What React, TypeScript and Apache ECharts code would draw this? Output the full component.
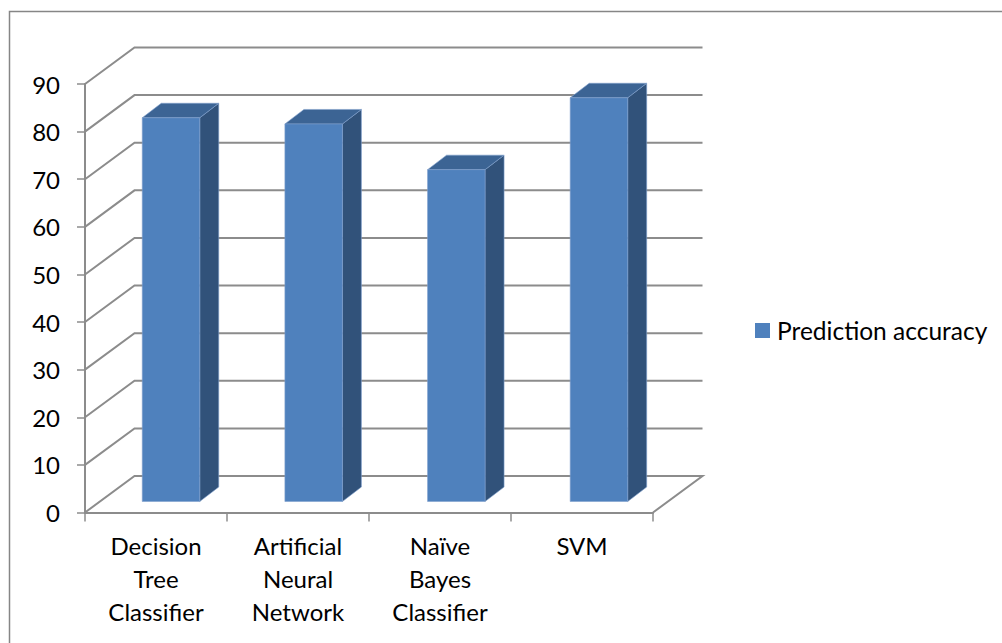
import React, { useEffect, useRef } from "react";
import * as echarts from "echarts";

const categories = ["Decision\nTree\nClassifier", "Artificial\nNeural\nNetwork", "Naïve\nBayes\nClassifier", "SVM"];
const accuracy = [80.6, 79.3, 69.7, 84.8];
const seriesName = "Prediction accuracy";
const yTicks = [0, 10, 20, 30, 40, 50, 60, 70, 80, 90];

const FRONT = "#4f81bd";
const TOP = "#3c6494";
const SIDE = "#31527a";
const EDGE = "#7f9fcc";
const GRID = "#8c8c8c";
const FONT = "Lato, Carlito, sans-serif";

// Depth of the box the chart sits in, and of each column inside it, in pixels.
const WALL_DX = 49.5;
const WALL_DY = 36.5;
const BAR_DX = 19;
const BAR_DY = 14.5;
const BAR_INSET_DX = 15;
const BAR_INSET_DY = 11;
const BAR_WIDTH = 57.5;
const BAR_PITCH_EXTRA = 0.65;

export default function App() {
  const ref = useRef<HTMLDivElement>(null);

  useEffect(() => {
    document.body.style.margin = "0";
    const chart = echarts.init(ref.current!, null, { renderer: "svg" });

    const renderWall = (params: any, api: any) => {
      const rect = params.coordSys;
      const tick = api.value(0);
      const p = api.coord([0, tick]);
      const y = p[1];
      const x0 = rect.x;
      const x1 = rect.x + rect.width;
      const points = tick === 0
        ? [[x0, y], [x0 + WALL_DX, y - WALL_DY], [x1 + WALL_DX, y - WALL_DY], [x1, y]]
        : [[x0, y], [x0 + WALL_DX, y - WALL_DY], [x1 + WALL_DX, y - WALL_DY]];
      return {
        type: "polyline",
        shape: { points },
        style: { stroke: GRID, lineWidth: 2, fill: "none" },
      };
    };

    const renderColumn = (_params: any, api: any) => {
      const idx = api.value(0);
      const top = api.coord([idx, api.value(1)]);
      const base = api.coord([idx, 0]);
      const x0 = base[0] - BAR_WIDTH / 2 + BAR_INSET_DX + idx * BAR_PITCH_EXTRA;
      const x1 = x0 + BAR_WIDTH;
      const yB = base[1] - BAR_INSET_DY;
      const yT = top[1] - BAR_INSET_DY;
      const poly = (points: number[][], fill: string) => ({
        type: "polygon",
        shape: { points },
        style: { fill, stroke: EDGE, lineWidth: 0.6 },
      });
      return {
        type: "group",
        children: [
          poly([[x1, yT], [x1 + BAR_DX, yT - BAR_DY], [x1 + BAR_DX, yB - BAR_DY], [x1, yB]], SIDE),
          poly([[x0, yT], [x0 + BAR_DX, yT - BAR_DY], [x1 + BAR_DX, yT - BAR_DY], [x1, yT]], TOP),
          poly([[x0, yT], [x1, yT], [x1, yB], [x0, yB]], FRONT),
        ],
      };
    };

    chart.setOption({
      animation: false,
      backgroundColor: "#ffffff",
      textStyle: { fontFamily: FONT },
      graphic: [
        {
          type: "polyline",
          shape: { points: [[9.5, 643], [9.5, 11.5], [1002, 11.5]] },
          style: { stroke: "#868686", lineWidth: 1.5, fill: "none" },
          silent: true,
        },
      ],
      legend: {
        show: true,
        left: 755,
        top: 318,
        icon: "rect",
        itemWidth: 15,
        itemHeight: 15,
        itemGap: 0,
        padding: 0,
        data: [{ name: seriesName, itemStyle: { color: FRONT } }],
        textStyle: { fontFamily: FONT, fontSize: 24.5, color: "#000000", padding: [0, 0, 3, 2] },
      },
      grid: { left: 85, right: 349, top: 84, height: 428.5 },
      xAxis: {
        type: "category",
        data: categories,
        boundaryGap: true,
        axisLine: { show: true, lineStyle: { color: GRID, width: 2 } },
        axisTick: { show: true, alignWithLabel: false, length: 9, lineStyle: { color: GRID, width: 1.5 } },
        axisLabel: { color: "#000000", fontFamily: FONT, fontSize: 24, lineHeight: 32.7, margin: 17, interval: 0 },
        splitLine: { show: false },
      },
      yAxis: {
        type: "value",
        min: 0,
        max: 90,
        interval: 10,
        axisLine: { show: true, lineStyle: { color: GRID, width: 2 } },
        axisTick: { show: true, length: 8, lineStyle: { color: GRID, width: 1.5 } },
        axisLabel: { color: "#000000", fontFamily: FONT, fontSize: 24, margin: 25, padding: [4, 0, 0, 0] },
        splitLine: { show: false },
      },
      series: [
        {
          type: "custom",
          name: "wall",
          silent: true,
          coordinateSystem: "cartesian2d",
          renderItem: renderWall,
          data: yTicks.map((t) => [t]),
          encode: { x: -1, y: 0 },
          z: 1,
        },
        {
          type: "custom",
          name: seriesName,
          coordinateSystem: "cartesian2d",
          renderItem: renderColumn,
          data: accuracy.map((v, i) => [i, v]),
          encode: { x: 0, y: 1 },
          itemStyle: { color: FRONT },
          z: 2,
        },
      ],
    });

    return () => chart.dispose();
  }, []);

  return <div ref={ref} style={{ width: 1002, height: 643 }} />;
}
